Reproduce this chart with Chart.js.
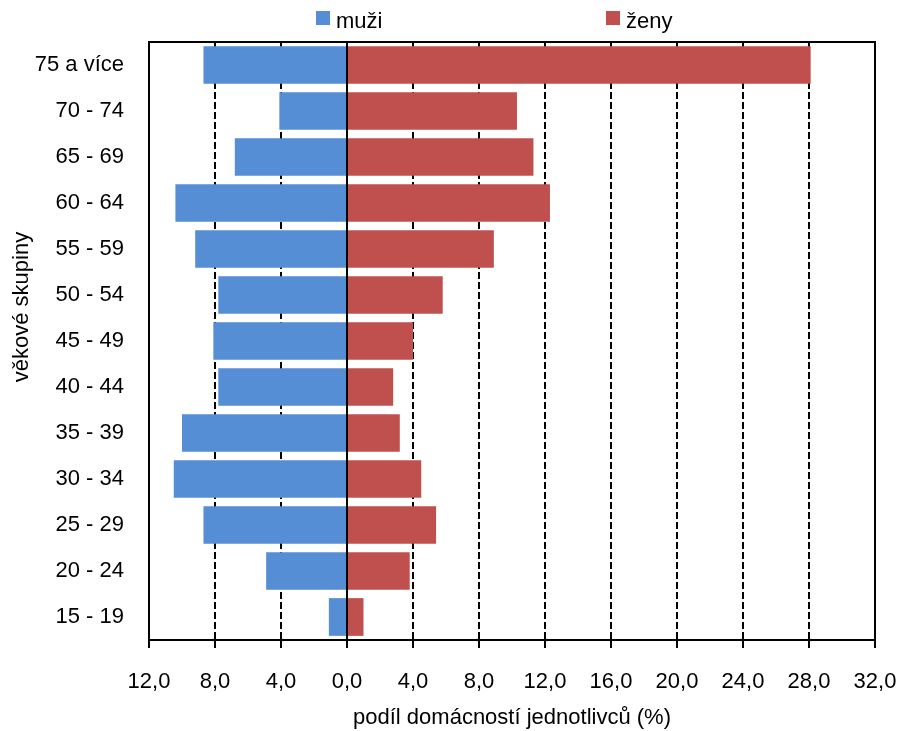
<!DOCTYPE html>
<html lang="cs">
<head>
<meta charset="utf-8">
<title>Domácnosti jednotlivců podle věku</title>
<script src="https://cdn.jsdelivr.net/npm/chart.js@4.4.1/dist/chart.umd.min.js"></script>
<style>
    html, body { margin: 0; padding: 0; background: #ffffff; }
    #chartBox { width: 905px; height: 731px; position: relative; }
</style>
</head>
<body>
<div id="chartBox"><canvas id="singlesChart"></canvas></div>
<script>
// věkové skupiny, shora dolů
const ageGroups = ['75 a více', '70 - 74', '65 - 69', '60 - 64', '55 - 59', '50 - 54', '45 - 49',
    '40 - 44', '35 - 39', '30 - 34', '25 - 29', '20 - 24', '15 - 19'];
// podíl domácností jednotlivců (%)
const muzi = [8.7, 4.1, 6.8, 10.4, 9.2, 7.8, 8.1, 7.8, 10.0, 10.5, 8.7, 4.9, 1.1];
const zeny = [28.1, 10.3, 11.3, 12.3, 8.9, 5.8, 4.0, 2.8, 3.2, 4.5, 5.4, 3.8, 1.0];
// osa x
const xMin = -12;
const xMax = 32;
const xStep = 4;

const seriesNames = ['muži', 'ženy'];
const seriesColors = ['#558ed5', '#c0504d'];
const FONT = "'Liberation Sans', Arial, sans-serif";

document.addEventListener('DOMContentLoaded', function() {
    // rámeček, nulová čára, legenda a popis osy y
    const decorPlugin = {
        id: 'decor',
        afterDatasetsDraw(chart) {
            const { ctx, chartArea: a, scales } = chart;
            const x0 = scales.x.getPixelForValue(0);
            ctx.save();
            ctx.strokeStyle = '#000';
            ctx.lineWidth = 2;
            ctx.setLineDash([]);
            ctx.beginPath();
            ctx.moveTo(x0, a.top);
            ctx.lineTo(x0, a.bottom);
            ctx.moveTo(a.left, a.top);
            ctx.lineTo(a.right, a.top);
            ctx.lineTo(a.right, a.bottom);
            ctx.stroke();
            ctx.restore();
        },
        afterDraw(chart) {
            const ctx = chart.ctx;
            ctx.save();
            ctx.font = '22px ' + FONT;
            ctx.fillStyle = '#000';
            ctx.textBaseline = 'alphabetic';
            const legendX = [316, 606];
            seriesNames.forEach(function(name, i) {
                ctx.fillStyle = seriesColors[i];
                ctx.fillRect(legendX[i], 11, 14, 14);
                ctx.fillStyle = '#000';
                ctx.fillText(name, legendX[i] + 20, 28);
            });
            // popis osy y
            ctx.translate(22, 307);
            ctx.rotate(-Math.PI / 2);
            ctx.textAlign = 'center';
            ctx.textBaseline = 'middle';
            ctx.fillText('věkové skupiny', 0, 0);
            ctx.restore();
        }
    };

    try {
        const canvasCtx = document.getElementById('singlesChart')?.getContext('2d');
        if (canvasCtx) {
            const singlesChart = new Chart(canvasCtx, {
                type: 'bar',
                data: {
                    labels: ageGroups,
                    datasets: [{
                        label: seriesNames[0],
                        data: muzi.map(v => -v), // muži vlevo
                        backgroundColor: seriesColors[0],
                        barPercentage: 0.82,
                        categoryPercentage: 1.0
                    }, {
                        label: seriesNames[1],
                        data: zeny,
                        backgroundColor: seriesColors[1],
                        barPercentage: 0.82,
                        categoryPercentage: 1.0
                    }]
                },
                options: {
                    indexAxis: 'y',
                    responsive: true,
                    maintainAspectRatio: false,
                    animation: false,
                    layout: {
                        padding: { top: 42, right: 30, left: 0, bottom: 0 }
                    },
                    scales: {
                        x: {
                            stacked: true,
                            min: xMin,
                            max: xMax,
                            afterFit: function(scale) {
                                // bez extra okraje pro popisky krajních hodnot
                                scale.paddingLeft = 0;
                                scale.paddingRight = 0;
                                scale.height = 91;
                            },
                            ticks: {
                                stepSize: xStep,
                                color: '#000',
                                padding: 21,
                                font: { size: 22, family: FONT },
                                maxRotation: 0,
                                callback: function(value) {
                                    return Math.abs(value).toFixed(1).replace('.', ',');
                                }
                            },
                            grid: {
                                color: '#000',
                                lineWidth: 2,
                                tickLength: 8,
                                tickColor: '#000',
                                tickWidth: 2,
                                tickBorderDash: []
                            },
                            border: {
                                display: true,
                                color: '#000',
                                width: 2,
                                dash: function(c) {
                                    if (c.type !== 'tick') return [];
                                    return (c.tick.value === 0 || c.tick.value === xMax) ? [] : [7, 3];
                                }
                            },
                            title: {
                                display: true,
                                text: 'podíl domácností jednotlivců (%)',
                                color: '#000',
                                font: { size: 22, family: FONT },
                                padding: { top: 8, bottom: 0 }
                            }
                        },
                        y: {
                            stacked: true,
                            afterFit: function(scale) {
                                scale.width = 149;
                            },
                            ticks: {
                                color: '#000',
                                padding: 25,
                                font: { size: 22, family: FONT }
                            },
                            grid: { display: false, drawTicks: false },
                            border: { display: true, color: '#000', width: 2 }
                        }
                    },
                    plugins: {
                        legend: { display: false },
                        tooltip: { enabled: false }
                    }
                },
                plugins: [decorPlugin]
            });
            console.log('Singles chart initialized.');
        } else {
            console.warn("Canvas 'singlesChart' not found.");
        }
    } catch (error) {
        console.error('Error initializing chart:', error);
    }
});
</script>
</body>
</html>
